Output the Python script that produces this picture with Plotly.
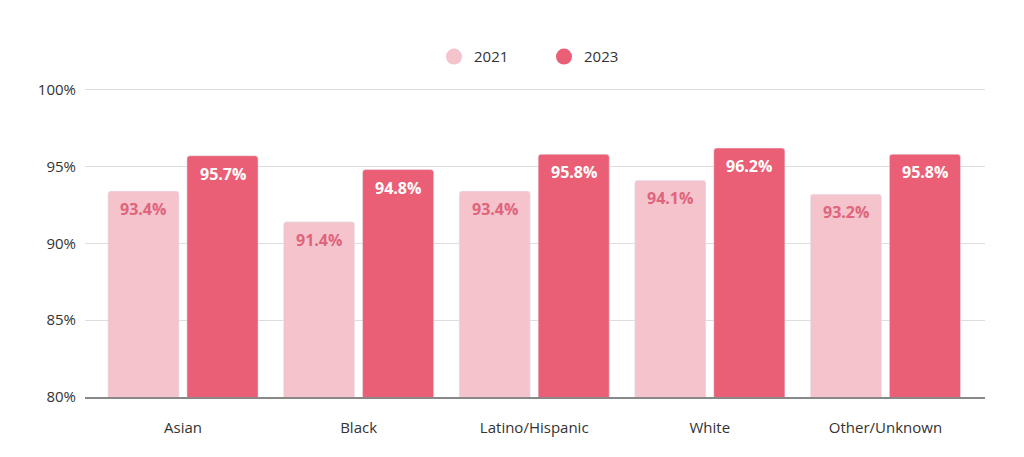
import plotly.graph_objects as go

categories = ["Asian", "Black", "Latino/Hispanic", "White", "Other/Unknown"]
rate_2021 = [93.4, 91.4, 93.4, 94.1, 93.2]
rate_2023 = [95.7, 94.8, 95.8, 96.2, 95.8]
y_ticks = [80, 85, 90, 95, 100]
y_tick_labels = ["80%", "85%", "90%", "95%", "100%"]

c21 = "#F4C3CC"
c23 = "#EA5F75"
font_family = "Open Sans, Lato, sans-serif"

fig = go.Figure()
fig.add_trace(go.Bar(x=categories, y=rate_2021, name="2021",
                     marker=dict(color=c21, cornerradius=3), showlegend=False))
fig.add_trace(go.Bar(x=categories, y=rate_2023, name="2023",
                     marker=dict(color=c23, cornerradius=3), showlegend=False))
for name, col in [("2021", c21), ("2023", c23)]:
    fig.add_trace(go.Scatter(x=[None], y=[None], mode="markers", name=name,
                             marker=dict(symbol="circle", size=22, color=col)))

# value labels inside the top of each bar
slot = (1 - 0.1) / 2
for i, cat in enumerate(categories):
    for vals, off, col in [(rate_2021, -slot / 2, "#E0647B"), (rate_2023, slot / 2, "white")]:
        fig.add_annotation(x=i + off, y=vals[i], xref="x", yref="y",
                           text=f"<b>{vals[i]:.1f}%</b>", showarrow=False,
                           yanchor="middle", yshift=-18,
                           font=dict(size=16, color=col, family=font_family))

fig.update_layout(
    width=1024, height=457,
    margin=dict(l=85, r=39, t=82, b=60),
    paper_bgcolor="white", plot_bgcolor="white",
    barmode="group", bargap=0.1, bargroupgap=0.1,
    font=dict(family=font_family, size=15, color="#333333"),
    legend=dict(orientation="h", x=0.51, xanchor="center", y=1.08, yanchor="middle",
                font=dict(size=15, color="#333333"), itemsizing="trace",
                entrywidth=65, entrywidthmode="pixels"),
    xaxis=dict(range=[-0.558, 4.567], showline=True, linecolor="#888888", linewidth=2,
               ticks="", tickfont=dict(size=15, color="#333333"), showgrid=False,
               ticklabelstandoff=16),
    yaxis=dict(range=[80, 100.5], tickvals=y_ticks, ticktext=y_tick_labels,
               showgrid=True, gridcolor="#DDDDDD", gridwidth=1, zeroline=False,
               tickfont=dict(size=15, color="#333333"), ticks="", ticklabelstandoff=8),
)

fig.write_html("out.html")
